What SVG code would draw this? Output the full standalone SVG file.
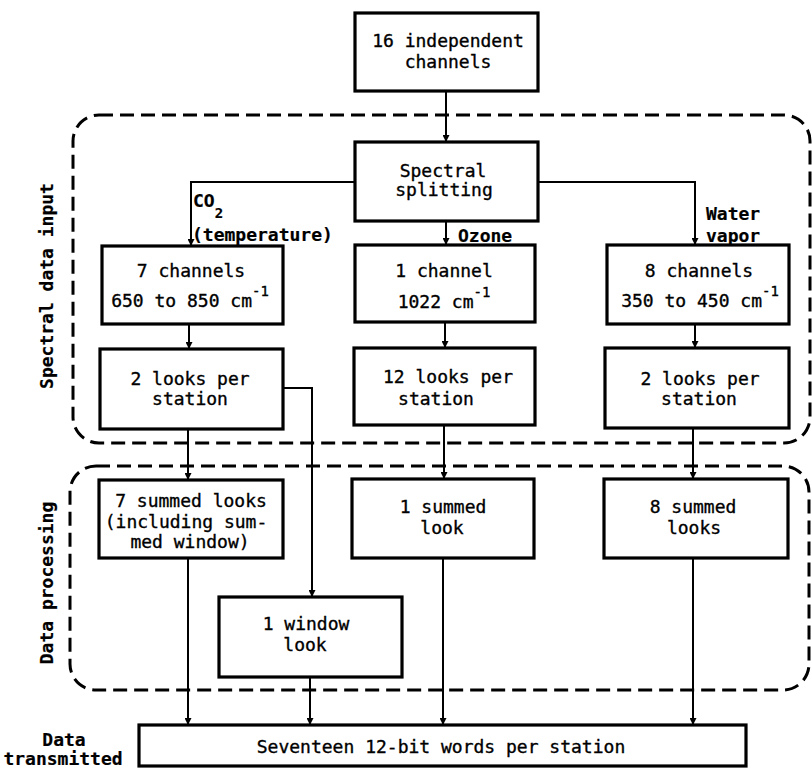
<svg xmlns="http://www.w3.org/2000/svg" width="812" height="768" viewBox="0 0 812 768">
<defs>
<style>
.box{fill:#fff;stroke:#000;stroke-width:3.2}
.region{fill:none;stroke:#000;stroke-width:3;stroke-dasharray:14 7}
.conn{fill:none;stroke:#000;stroke-width:2}
text{font-family:"DejaVu Sans Mono","Liberation Mono",monospace;font-size:18px;fill:#000;stroke:#000;stroke-width:0.35}
.t{text-anchor:middle}
.lbl{font-weight:bold;stroke-width:0.2}
.sup{font-size:14px}
</style>
<marker id="arr" viewBox="0 0 10 10" refX="10" refY="5" markerWidth="7" markerHeight="7" markerUnits="userSpaceOnUse" orient="auto">
<path d="M0,0 L10,5 L0,10 z" fill="#000"/>
</marker>
</defs>
<rect width="812" height="768" fill="#fff"/>

<g id="regions">
<rect class="region" x="73" y="115" width="737" height="328" rx="26"/>
<rect class="region" x="70" y="466" width="739" height="224" rx="26"/>
</g>

<g id="connectors">
<path class="conn" d="M446,91 V142" marker-end="url(#arr)"/>
<path class="conn" d="M355,182 H191 V246" marker-end="url(#arr)"/>
<path class="conn" d="M446,221 V245" marker-end="url(#arr)"/>
<path class="conn" d="M538,182 H695 V245" marker-end="url(#arr)"/>
<path class="conn" d="M189,324 V349" marker-end="url(#arr)"/>
<path class="conn" d="M445,322 V348" marker-end="url(#arr)"/>
<path class="conn" d="M695,324 V348" marker-end="url(#arr)"/>
<path class="conn" d="M188,429 V480" marker-end="url(#arr)"/>
<path class="conn" d="M444,425 V479" marker-end="url(#arr)"/>
<path class="conn" d="M693,428 V479" marker-end="url(#arr)"/>
<path class="conn" d="M283,388 H312 V597" marker-end="url(#arr)"/>
<path class="conn" d="M188,558 V725" marker-end="url(#arr)"/>
<path class="conn" d="M310,677 V725" marker-end="url(#arr)"/>
<path class="conn" d="M443,558 V725" marker-end="url(#arr)"/>
<path class="conn" d="M693,558 V725" marker-end="url(#arr)"/>
</g>

<g id="labels">
<text class="lbl" x="193" y="207">CO<tspan class="sup" dy="11">2</tspan></text>
<text class="lbl" x="192" y="241">(temperature)</text>
<text class="lbl" x="458" y="242">Ozone</text>
<text class="lbl" x="706" y="220">Water</text>
<text class="lbl" x="706" y="242">vapor</text>
<text class="lbl t" transform="translate(53,286) rotate(-90)">Spectral data input</text>
<text class="lbl t" transform="translate(53,583) rotate(-90)">Data processing</text>
<text class="lbl t" x="64" y="746">Data</text>
<text class="lbl t" x="63" y="765">transmitted</text>
</g>

<g id="n-16-channels">
<rect class="box" x="355" y="13" width="183" height="78"/>
<text class="t" x="448" y="47">16 independent</text>
<text class="t" x="448" y="68">channels</text>
</g>

<g id="n-spectral-splitting">
<rect class="box" x="355" y="142" width="183" height="79"/>
<text class="t" x="443" y="177">Spectral</text>
<text class="t" x="444" y="196">splitting</text>
</g>

<g id="n-7-channels">
<rect class="box" x="102" y="246" width="181" height="78"/>
<text class="t" x="191" y="277">7 channels</text>
<text class="t" x="190" y="307">650 to 850 cm<tspan class="sup" dy="-11">-1</tspan></text>
</g>

<g id="n-1-channel">
<rect class="box" x="355" y="245" width="180" height="77"/>
<text class="t" x="444" y="277">1 channel</text>
<text class="t" x="444" y="308">1022 cm<tspan class="sup" dy="-11">-1</tspan></text>
</g>

<g id="n-8-channels">
<rect class="box" x="607" y="245" width="182" height="79"/>
<text class="t" x="699" y="277">8 channels</text>
<text class="t" x="700" y="307">350 to 450 cm<tspan class="sup" dy="-11">-1</tspan></text>
</g>

<g id="n-2-looks-left">
<rect class="box" x="100" y="349" width="183" height="80"/>
<text class="t" x="190" y="385">2 looks per</text>
<text class="t" x="190" y="405">station</text>
</g>

<g id="n-12-looks">
<rect class="box" x="354" y="348" width="181" height="77"/>
<text class="t" x="448" y="383">12 looks per</text>
<text class="t" x="436" y="405">station</text>
</g>

<g id="n-2-looks-right">
<rect class="box" x="605" y="348" width="184" height="80"/>
<text class="t" x="700" y="385">2 looks per</text>
<text class="t" x="699" y="405">station</text>
</g>

<g id="n-7-summed">
<rect class="box" x="99" y="480" width="184" height="78"/>
<text class="t" x="191" y="507">7 summed looks</text>
<text class="t" x="186" y="528">(including sum-</text>
<text class="t" x="190" y="548">med window)</text>
</g>

<g id="n-1-summed">
<rect class="box" x="352" y="479" width="182" height="79"/>
<text class="t" x="443" y="513">1 summed</text>
<text class="t" x="442" y="534">look</text>
</g>

<g id="n-8-summed">
<rect class="box" x="604" y="479" width="184" height="79"/>
<text class="t" x="693" y="513">8 summed</text>
<text class="t" x="694" y="534">looks</text>
</g>

<g id="n-window-look">
<rect class="box" x="219" y="597" width="183" height="80"/>
<text class="t" x="306" y="630">1 window</text>
<text class="t" x="305" y="651">look</text>
</g>

<g id="n-seventeen">
<rect class="box" x="139" y="725" width="607" height="41"/>
<text class="t" x="441" y="753">Seventeen 12-bit words per station</text>
</g>
</svg>
